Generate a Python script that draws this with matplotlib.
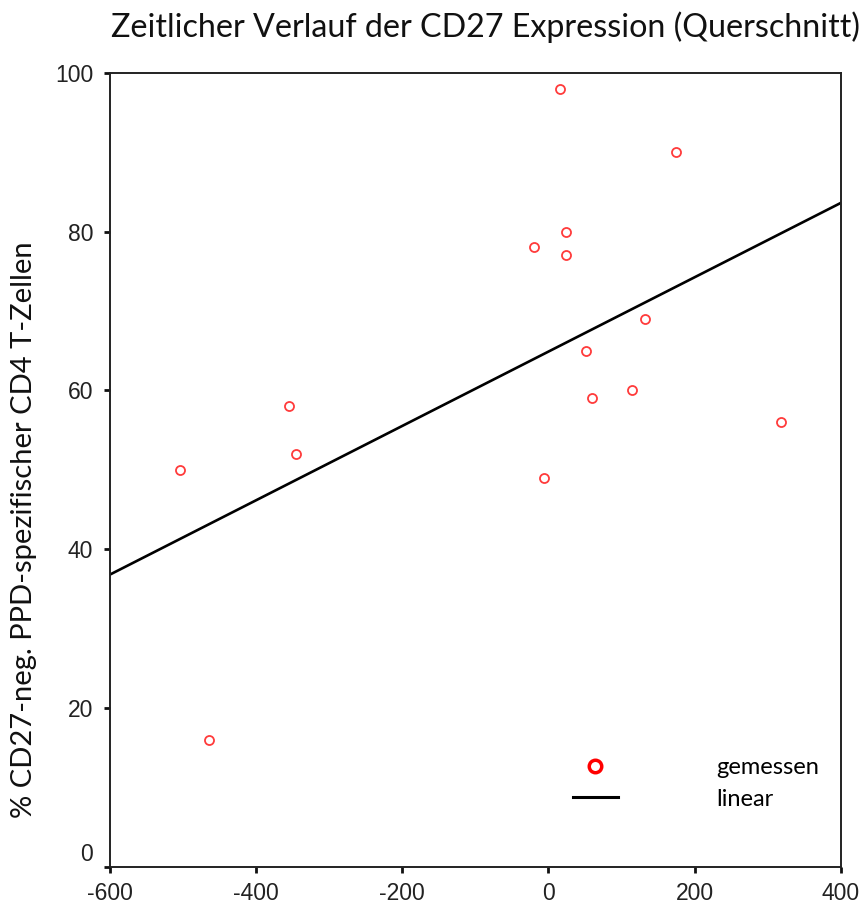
import matplotlib
matplotlib.use('Agg')
import matplotlib.pyplot as plt
from matplotlib.lines import Line2D
from matplotlib.transforms import ScaledTranslation

# Tage relativ zum Referenzzeitpunkt und Anteil CD27-negativer Zellen (%)
tage = [-504, -465, -355, -346, 16, -20, 24, 24, -6, 174, 132, 52, 59, 114, 318]
cd27_neg = [50, 16, 58, 52, 98, 78, 80, 77, 49, 90, 69, 65, 59, 60, 56]

# lineare Anpassung (Endpunkte ueber den Achsenbereich)
fit_x = [-600, 400]
fit_y = [36.8, 83.6]

x_ticks = [-600, -400, -200, 0, 200, 400]
y_ticks = [0, 20, 40, 60, 80, 100]

fig = plt.figure(figsize=(8.63, 9.07), dpi=100)
ax = fig.add_axes([0.1275, 0.0444, 0.8467, 0.8754])

ax.plot(fit_x, fit_y, color='black', lw=1.9, zorder=2)
ax.plot(tage, cd27_neg, ls='none', marker='o', ms=6.5, mfc='none',
        mec='#ff3b3b', mew=1.3, zorder=3)

ax.set_xlim(-600, 400)
ax.set_ylim(0, 100)
ax.set_xticks(x_ticks)
ax.set_yticks(y_ticks)
ax.set_xticklabels([str(t) for t in x_ticks], family='Liberation Sans', fontsize=16.5, color='#222222')
ax.set_yticklabels([str(t) for t in y_ticks], family='Liberation Sans', fontsize=16.5, color='#222222')
ax.tick_params(axis='both', direction='out', length=4, width=2, color='#111111')
ax.tick_params(axis='x', pad=7)
ax.tick_params(axis='y', pad=8)
for s in ax.spines.values():
    s.set_linewidth(1.4)
    s.set_color('#222222')

# die 0 etwas nach oben schieben, damit sie nicht mit der x-Achse kollidiert
lab0 = ax.get_yticklabels()[0]
lab0.set_transform(lab0.get_transform() + ScaledTranslation(0, 0.15, fig.dpi_scale_trans))

fig.text(0.5626, 1 - 36.7 / 907, 'Zeitlicher Verlauf der CD27 Expression (Querschnitt)',
         ha='center', va='baseline', family='Lato', fontsize=23.2, color='#111111')
fig.text(24 / 863, 1 - 530 / 907, '% CD27-neg. PPD-spezifischer CD4 T-Zellen',
         rotation=90, ha='center', va='center', family='Lato', fontsize=21, color='#111111')

handles = [
    Line2D([], [], ls='none', marker='o', ms=9, mfc='none', mec='#ff0000', mew=2.5),
    Line2D([], [], color='black', lw=2.2),
]
ax.legend(handles, ['gemessen', 'linear'], loc='center left',
          bbox_to_anchor=(0.617, 0.105), frameon=False, borderpad=0,
          handlelength=1.9, handletextpad=4.2, labelspacing=0.45,
          prop={'family': 'Lato', 'size': 17})

fig.savefig('out.png', dpi=100)
